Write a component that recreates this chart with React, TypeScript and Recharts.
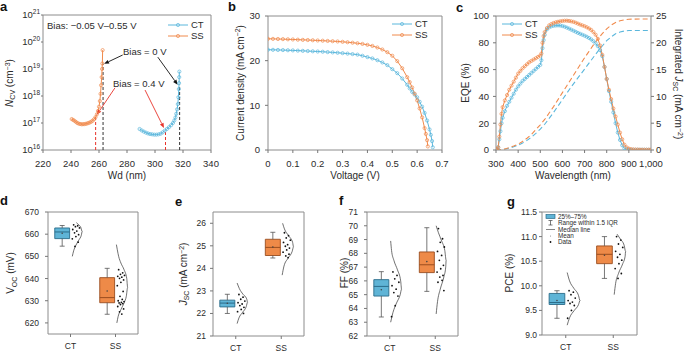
import React from 'react';
import { ComposedChart, Line, Scatter, XAxis, YAxis, ReferenceLine, ReferenceArea } from 'recharts';

type Pt = [number, number];
type Box = { min: number; q1: number; med: number; q3: number; max: number; mean: number };

const CT_C = '#5bb7dc';
const SS_C = '#f08a4c';
const FONT = '"Liberation Sans", Arial, Helvetica, sans-serif';
const FRAME = '#8c8c8c';
const TICK = '#777';
const TXT = '#2b2b2b';

const GROUPS = ['CT', 'SS'];

// a: C-V doping profiles [Wd (nm), N_CV (cm^-3)]
const ncvCT: Pt[] = [
  [289, 6e16], [290.5, 5.3e16], [292, 4.8e16], [293.5, 4.4e16], [295, 4.1e16], [296.5, 3.9e16],
  [298, 3.8e16], [299.5, 3.7e16], [301, 3.7e16], [302.5, 3.8e16], [304, 4.0e16], [305.5, 4.5e16],
  [307, 5.2e16], [308.5, 6.0e16], [310, 7e16], [311.5, 8.3e16], [312.8, 1e17], [313.8, 1.25e17],
  [314.6, 1.6e17], [315.2, 2.2e17], [315.8, 3.2e17], [316.3, 5e17], [316.7, 9e17], [317, 1.8e18],
  [317.2, 3e18], [317.3, 5e18], [317.4, 8e18],
];
const ncvSS: Pt[] = [
  [240.5, 1.4e17], [241.5, 1.3e17], [242.5, 1.2e17], [243.5, 1.1e17], [244.5, 1.0e17], [245.5, 9.5e16],
  [246.5, 9.2e16], [247.5, 9.0e16], [248.5, 9.0e16], [249.5, 9.1e16], [250.5, 9.3e16], [251.5, 9.6e16],
  [252.5, 1.0e17], [253.5, 1.05e17], [254.5, 1.12e17], [255.5, 1.22e17], [256.5, 1.38e17], [257.5, 1.65e17],
  [258.5, 2.1e17], [259.3, 2.8e17], [260, 4.0e17], [260.6, 6.5e17], [261.1, 1.2e18], [261.5, 2.5e18],
  [261.9, 5e18], [262.2, 1e19], [262.4, 1.6e19], [262.6, 5e19],
];
// dashed guides [Wd, N where the guide meets the curve]
const guides0V: Pt[] = [[262.9, 1.6e19], [317.6, 2.6e18]];
const guides04V: Pt[] = [[257.6, 1.7e17], [307.5, 5.4e16]];
// arrows [from, to]
const arrows0V: [Pt, Pt][] = [[[276.9, 3.3e19], [263.6, 1.55e19]], [[302, 2.75e19], [316.2, 2.6e18]]];
const arrows04V: [Pt, Pt][] = [[[271.4, 2e18], [258.4, 2e17]], [[292.9, 1.66e18], [306.4, 6.5e16]]];

// b: J-V curves [V, mA cm^-2]
const jvCT: Pt[] = [
  [0, 22.45], [0.02, 22.43], [0.04, 22.4], [0.06, 22.37], [0.08, 22.33], [0.1, 22.3], [0.12, 22.25],
  [0.14, 22.2], [0.16, 22.15], [0.18, 22.1], [0.2, 22.05], [0.22, 22.0], [0.24, 21.92], [0.26, 21.85],
  [0.28, 21.77], [0.3, 21.68], [0.32, 21.58], [0.34, 21.47], [0.36, 21.35], [0.38, 21.1], [0.4, 20.8],
  [0.42, 20.5], [0.44, 20.1], [0.46, 19.6], [0.48, 19.0], [0.5, 18.1], [0.52, 17.2], [0.54, 16.0],
  [0.56, 14.6], [0.57, 13.8], [0.58, 13.0], [0.59, 12.4], [0.6, 11.8], [0.61, 10.8], [0.62, 9.7],
  [0.63, 8.3], [0.64, 6.6], [0.65, 4.6], [0.655, 3.4], [0.66, 2.0], [0.663, 0.6],
];
const jvSS: Pt[] = [
  [0, 24.9], [0.02, 24.88], [0.04, 24.85], [0.06, 24.82], [0.08, 24.78], [0.1, 24.75], [0.12, 24.7],
  [0.14, 24.66], [0.16, 24.62], [0.18, 24.57], [0.2, 24.52], [0.22, 24.47], [0.24, 24.42], [0.26, 24.36],
  [0.28, 24.3], [0.3, 24.22], [0.32, 24.13], [0.34, 24.02], [0.36, 23.9], [0.38, 23.75], [0.4, 23.55],
  [0.42, 23.3], [0.44, 22.95], [0.46, 22.5], [0.48, 21.9], [0.5, 21.1], [0.52, 19.9], [0.54, 18.3],
  [0.56, 16.3], [0.57, 15.2], [0.58, 14.0], [0.59, 12.6], [0.6, 11.1], [0.61, 9.3], [0.62, 7.3],
  [0.63, 4.9], [0.635, 3.6], [0.64, 2.2], [0.643, 0.8],
];

// c: EQE [nm, %] and integrated Jsc [nm, mA cm^-2]
const eqeCT: Pt[] = [
  [300, 0.5], [305, 0.8], [310, 2], [315, 8], [320, 14], [325, 20], [330, 24], [340, 29], [350, 33],
  [360, 36], [370, 39], [380, 42], [390, 45], [400, 47.5], [410, 49.5], [420, 51.5], [430, 53], [440, 54.5],
  [450, 56], [460, 57.5], [470, 59], [480, 60.5], [490, 62], [500, 63.5], [505, 67], [510, 76], [515, 82],
  [520, 86], [530, 90], [540, 91.5], [550, 92.3], [560, 92.7], [570, 92.9], [580, 93], [590, 92.9],
  [600, 92.5], [610, 92], [620, 91.3], [630, 90.6], [640, 89.8], [650, 89], [660, 88.2], [670, 87.4],
  [680, 86.7], [690, 86], [700, 85.3], [710, 84.5], [720, 83.6], [730, 82.5], [740, 81.2], [750, 79.6],
  [760, 77.5], [770, 74.5], [780, 70], [790, 62], [800, 53], [810, 44], [820, 36], [830, 28], [840, 20],
  [850, 13], [860, 7.5], [870, 3.5], [880, 1.2], [890, 0.5], [900, 0.3], [910, 0.2], [920, 0.2],
  [930, 0.2], [940, 0.2], [950, 0.2], [960, 0.2], [970, 0.2], [980, 0.2], [990, 0.2], [1000, 0.2],
];
const eqeSS: Pt[] = [
  [300, 0.5], [305, 0.8], [310, 2], [315, 10], [320, 19], [325, 27], [330, 32], [340, 37], [350, 41],
  [360, 45], [370, 48], [380, 51], [390, 54], [400, 57], [410, 59], [420, 61], [430, 62.5], [440, 64],
  [450, 65.5], [460, 66.5], [470, 67.5], [480, 68.5], [490, 69.5], [500, 70.5], [505, 72], [510, 80],
  [515, 85], [520, 88], [530, 91], [540, 93], [550, 94], [560, 94.8], [570, 95.3], [580, 95.7], [590, 96],
  [600, 96.3], [610, 96.5], [620, 96.5], [630, 96.3], [640, 96], [650, 95.6], [660, 95], [670, 94.3],
  [680, 93.6], [690, 93], [700, 92.4], [710, 91.6], [720, 90.7], [730, 89.6], [740, 88], [750, 86],
  [760, 83], [770, 78], [780, 71], [790, 62], [800, 53], [810, 45], [820, 38], [830, 31], [840, 25],
  [850, 19], [860, 13], [870, 8], [880, 4], [890, 2], [900, 1], [910, 0.6], [920, 0.4], [930, 0.3],
  [940, 0.3], [950, 0.2], [960, 0.2], [970, 0.2], [980, 0.2], [990, 0.2], [1000, 0.2],
];
const jscIntCT: Pt[] = [
  [300, 0], [340, 0.15], [360, 0.35], [380, 0.6], [400, 0.9], [420, 1.3], [440, 1.8], [460, 2.4],
  [480, 3.1], [500, 3.9], [520, 4.8], [540, 5.9], [560, 7.0], [580, 8.2], [600, 9.4], [620, 10.6],
  [640, 11.8], [660, 12.9], [680, 14.0], [700, 15.1], [720, 16.2], [740, 17.3], [760, 18.4], [780, 19.4],
  [800, 20.4], [820, 21.1], [840, 21.7], [860, 22.0], [880, 22.2], [900, 22.3], [950, 22.3], [1000, 22.3],
];
const jscIntSS: Pt[] = [
  [300, 0], [320, 0.05], [340, 0.2], [360, 0.45], [380, 0.75], [400, 1.1], [420, 1.6], [440, 2.2],
  [460, 2.9], [480, 3.8], [500, 4.7], [520, 5.7], [540, 6.9], [560, 8.1], [580, 9.4], [600, 10.7],
  [620, 12.0], [640, 13.3], [660, 14.6], [680, 15.9], [700, 17.2], [720, 18.4], [740, 19.6], [760, 20.7],
  [780, 21.7], [800, 22.6], [820, 23.3], [840, 23.8], [860, 24.1], [880, 24.3], [900, 24.4], [950, 24.45],
  [1000, 24.45],
];

// d-g: device statistics (CT, SS)
const vocCT = [664.2, 663.8, 663.4, 662.8, 662.1, 661.4, 660.6, 659.8, 658.9, 657.9, 656.4, 654.5];
const vocSS = [644.0, 642.6, 641.9, 641.4, 641.0, 640.6, 640.1, 639.4, 638.3, 636.8, 634.2, 632.0, 630.6,
  630.0, 629.6, 629.3, 629.0, 628.7, 628.3, 627.4, 626.3, 625.0, 624.0];
const vocBoxCT: Box = { min: 654.6, q1: 658.0, med: 661.0, q3: 662.8, max: 663.9, mean: 660.4 };
const vocBoxSS: Box = { min: 623.9, q1: 629.1, med: 631.4, q3: 640.4, max: 644.6, mean: 634.4 };
const vocViolinCT: Pt[] = [[650, 0.04], [652.5, 0.07], [655, 0.12], [657.5, 0.19], [659.5, 0.24], [661.2, 0.26],
  [663, 0.23], [664.3, 0.18], [665.2, 0.13]];
const vocViolinSS: Pt[] = [[620, 0.03], [623, 0.06], [626, 0.12], [629, 0.19], [632, 0.24], [636, 0.27],
  [640, 0.25], [644, 0.19], [647, 0.12], [650, 0.07], [653, 0.04], [655.3, 0.02]];

const jscCT = [22.84, 22.72, 22.63, 22.55, 22.48, 22.42, 22.35, 22.27, 22.18, 22.08, 22.0];
const jscSS = [25.58, 25.45, 25.35, 25.25, 25.15, 25.05, 24.98, 24.9, 24.82, 24.72, 24.63, 24.55, 24.48];
const jscBoxCT: Box = { min: 22.0, q1: 22.29, med: 22.46, q3: 22.59, max: 22.85, mean: 22.45 };
const jscBoxSS: Box = { min: 24.46, q1: 24.57, med: 24.93, q3: 25.29, max: 25.6, mean: 24.95 };
const jscViolinCT: Pt[] = [[21.55, 0.03], [21.8, 0.07], [22.05, 0.15], [22.3, 0.23], [22.5, 0.26], [22.65, 0.24],
  [22.85, 0.16], [23.1, 0.08], [23.35, 0.03]];
const jscViolinSS: Pt[] = [[23.7, 0.02], [24.1, 0.06], [24.45, 0.15], [24.75, 0.24], [24.95, 0.27], [25.15, 0.25],
  [25.45, 0.16], [25.75, 0.07], [26.0, 0.03]];

const ffCT = [66.65, 66.4, 66.15, 65.9, 65.65, 65.4, 65.15, 64.9, 64.2, 63.4];
const ffSS = [69.8, 69.06, 68.8, 68.46, 68.14, 67.85, 67.49, 67.13, 66.88, 66.64, 66.4, 66.28, 66.04, 65.9, 65.3];
const ffBoxCT: Box = { min: 63.38, q1: 64.9, med: 65.6, q3: 66.09, max: 66.67, mean: 65.36 };
const ffBoxSS: Box = { min: 65.24, q1: 66.6, med: 67.17, q3: 68.1, max: 69.86, mean: 67.4 };
const ffViolinCT: Pt[] = [[63.0, 0.02], [63.7, 0.07], [64.4, 0.15], [65.0, 0.23], [65.4, 0.26], [66.0, 0.24],
  [66.8, 0.17], [67.5, 0.09], [68.2, 0.04], [68.9, 0.02]];
const ffViolinSS: Pt[] = [[63.6, 0.02], [64.5, 0.05], [65.4, 0.11], [66.3, 0.19], [67.0, 0.23], [67.5, 0.24],
  [68.2, 0.21], [68.9, 0.14], [69.5, 0.07], [70.0, 0.02]];

const pceCT = [9.9, 9.87, 9.82, 9.75, 9.7, 9.67, 9.64, 9.6, 9.5, 9.34];
const pceSS = [11.0, 10.93, 10.85, 10.78, 10.7, 10.64, 10.58, 10.52, 10.45, 10.35, 10.25, 10.15];
const pceBoxCT: Box = { min: 9.34, q1: 9.62, med: 9.66, q3: 9.845, max: 9.9, mean: 9.7 };
const pceBoxSS: Box = { min: 10.15, q1: 10.45, med: 10.64, q3: 10.81, max: 11.0, mean: 10.62 };
const pceViolinCT: Pt[] = [[9.2, 0.03], [9.35, 0.08], [9.5, 0.18], [9.62, 0.27], [9.7, 0.3], [9.8, 0.27],
  [9.95, 0.17], [10.1, 0.08], [10.27, 0.03]];
const pceViolinSS: Pt[] = [[9.82, 0.02], [10.05, 0.05], [10.25, 0.11], [10.45, 0.2], [10.6, 0.25], [10.7, 0.26],
  [10.82, 0.23], [10.95, 0.15], [11.05, 0.08]];

// horizontal jitter for the raw data dots (style only)
const JIT = [0.07, 0.16, 0.11, 0.2, 0.05, 0.14, 0.09, 0.18, 0.12, 0.04, 0.17, 0.1, 0.15, 0.06, 0.19, 0.13,
  0.08, 0.16, 0.11, 0.05, 0.18, 0.09, 0.14];
const BOX_L = -0.35;
const BOX_R = -0.02;
const BOX_C = -0.185;
const CAP = 0.055;

const xy = (pts: Pt[]) => pts.map(([x, y]) => ({ x, y }));
const tickTop = { fontSize: 9.5, fill: TXT, fontFamily: FONT };
const tickBot = { fontSize: 8.5, fill: TXT, fontFamily: FONT };
const mark = (c: string) => ({ r: 1.6, fill: 'none', stroke: c, strokeWidth: 0.7 });

function LogTick(props: any) {
  const { x, y, payload } = props;
  const e = Math.round(Math.log10(payload.value));
  return (
    <text x={x} y={y} textAnchor="end" fontSize={9.5} fill={TXT} dy="0.35em" fontFamily={FONT}>
      10<tspan fontSize={6.5} dy={-4}>{e}</tspan>
    </text>
  );
}

const arrowShape = (color: string) => (p: any) => {
  const { x1, y1, x2, y2 } = p;
  const a = Math.atan2(y2 - y1, x2 - x1);
  const L = 5;
  const W = 2;
  const bx = x2 - L * Math.cos(a);
  const by = y2 - L * Math.sin(a);
  const nx = -Math.sin(a) * W;
  const ny = Math.cos(a) * W;
  return (
    <g>
      <line x1={x1} y1={y1} x2={bx} y2={by} stroke={color} strokeWidth={0.9} />
      <polygon points={`${x2},${y2} ${bx + nx},${by + ny} ${bx - nx},${by - ny}`} fill={color} />
    </g>
  );
};

function Title({ x, y, rot = 0, size = 10, children }: any) {
  return (
    <div style={{
      position: 'absolute', left: x, top: y, transform: `translate(-50%,-50%) rotate(${rot}deg)`,
      whiteSpace: 'nowrap', fontSize: size, lineHeight: 1, color: TXT,
    }}>{children}</div>
  );
}

const Sub = ({ children }: any) => <sub style={{ fontSize: '0.7em', verticalAlign: '-0.3em' }}>{children}</sub>;
const Sup = ({ children }: any) => <sup style={{ fontSize: '0.7em', verticalAlign: '0.45em' }}>{children}</sup>;

function Letter({ x, top, children }: any) {
  return (
    <div style={{ position: 'absolute', left: x, top, fontSize: 13, fontWeight: 700, lineHeight: 1, color: '#111' }}>
      {children}
    </div>
  );
}

function SeriesLegend({ left, top }: { left: number; top: number }) {
  const items: [string, string][] = [['CT', CT_C], ['SS', SS_C]];
  return (
    <svg style={{ position: 'absolute', left, top }} width={44} height={26}>
      {items.map(([name, c], i) => {
        const y = 5 + i * 11;
        return (
          <g key={name}>
            <line x1={0} x2={20} y1={y} y2={y} stroke={c} strokeWidth={1} />
            <circle cx={10} cy={y} r={1.6} fill="none" stroke={c} strokeWidth={0.7} />
            <text x={23} y={y} dy="0.35em" fontSize={9.5} fill={TXT} fontFamily={FONT}>{name}</text>
          </g>
        );
      })}
    </svg>
  );
}

function PanelA() {
  return (
    <div style={{ position: 'absolute', left: 0, top: 0 }}>
      <ComposedChart width={220} height={180} margin={{ top: 15, right: 9, bottom: 0, left: 0 }}>
        <XAxis type="number" dataKey="x" domain={[220, 340]} ticks={[220, 240, 260, 280, 300, 320, 340]} interval={0}
          height={30} axisLine={false} tickSize={3} tickMargin={7} tick={tickTop} tickLine={{ stroke: TICK }} allowDataOverflow />
        <YAxis type="number" dataKey="y" scale="log" domain={[1e16, 1e21]} ticks={[1e16, 1e17, 1e18, 1e19, 1e20, 1e21]} interval={0}
          width={43} axisLine={false} tickSize={2} tickMargin={1} tick={<LogTick />} tickLine={{ stroke: TICK }} allowDataOverflow />
        <ReferenceArea x1={220} x2={340} y1={1e16} y2={1e21} fill="none" fillOpacity={0} stroke={FRAME} />
        {guides04V.map(([x, y], i) => (
          <ReferenceLine key={'r' + i} segment={[{ x, y: 1e16 }, { x, y }]} stroke="#e8332a" strokeDasharray="3 2" strokeWidth={1} />
        ))}
        {guides0V.map(([x, y], i) => (
          <ReferenceLine key={'k' + i} segment={[{ x, y: 1e16 }, { x, y }]} stroke="#333" strokeDasharray="3 2" strokeWidth={1} />
        ))}
        <Line data={xy(ncvSS)} dataKey="y" stroke={SS_C} strokeWidth={1} dot={mark(SS_C)} isAnimationActive={false} />
        <Line data={xy(ncvCT)} dataKey="y" stroke={CT_C} strokeWidth={1} dot={mark(CT_C)} isAnimationActive={false} />
        {arrows0V.map(([a, b], i) => (
          <ReferenceLine key={'ak' + i} segment={[{ x: a[0], y: a[1] }, { x: b[0], y: b[1] }]} shape={arrowShape('#111')} />
        ))}
        {arrows04V.map(([a, b], i) => (
          <ReferenceLine key={'ar' + i} segment={[{ x: a[0], y: a[1] }, { x: b[0], y: b[1] }]} shape={arrowShape('#e8332a')} />
        ))}
      </ComposedChart>
      <div style={{ position: 'absolute', left: 47, top: 20, fontSize: 9.5, color: TXT, whiteSpace: 'nowrap' }}>Bias: −0.05 V–0.55 V</div>
      <div style={{ position: 'absolute', left: 123, top: 46, fontSize: 9.5, color: TXT, whiteSpace: 'nowrap' }}>Bias = 0 V</div>
      <div style={{ position: 'absolute', left: 113, top: 78, fontSize: 9.5, color: TXT, whiteSpace: 'nowrap' }}>Bias = 0.4 V</div>
      <SeriesLegend left={168} top={20} />
    </div>
  );
}

function PanelB() {
  return (
    <div style={{ position: 'absolute', left: 225, top: 0 }}>
      <ComposedChart width={225} height={180} margin={{ top: 16, right: 8, bottom: 0, left: 0 }}>
        <XAxis type="number" dataKey="x" domain={[0, 0.7]} ticks={[0, 0.1, 0.2, 0.3, 0.4, 0.5, 0.6, 0.7]} interval={0}
          tickFormatter={(v: number) => (v === 0 ? '0' : v.toFixed(1))}
          height={30} axisLine={false} tickSize={3} tickMargin={7} tick={tickTop} tickLine={{ stroke: TICK }} allowDataOverflow />
        <YAxis type="number" dataKey="y" domain={[0, 30]} ticks={[0, 10, 20, 30]} interval={0}
          width={43} axisLine={false} tickSize={3} tickMargin={5} tick={tickTop} tickLine={{ stroke: TICK }} allowDataOverflow />
        <ReferenceArea x1={0} x2={0.7} y1={0} y2={30} fill="none" fillOpacity={0} stroke={FRAME} />
        <Line data={xy(jvCT)} dataKey="y" stroke={CT_C} strokeWidth={1} dot={mark(CT_C)} isAnimationActive={false} />
        <Line data={xy(jvSS)} dataKey="y" stroke={SS_C} strokeWidth={1} dot={mark(SS_C)} isAnimationActive={false} />
      </ComposedChart>
      <SeriesLegend left={167} top={19} />
    </div>
  );
}

function PanelC() {
  return (
    <div style={{ position: 'absolute', left: 450, top: 0 }}>
      <ComposedChart width={235} height={180} margin={{ top: 16, right: 0, bottom: 0, left: 0 }}>
        <XAxis type="number" dataKey="x" domain={[300, 1000]} ticks={[300, 400, 500, 600, 700, 800, 900, 1000]} interval={0}
          tickFormatter={(v: number) => (v === 1000 ? '1,000' : String(v))}
          height={30} axisLine={false} tickSize={3} tickMargin={7} tick={tickTop} tickLine={{ stroke: TICK }} allowDataOverflow />
        <YAxis yAxisId="l" type="number" dataKey="y" domain={[0, 100]} ticks={[0, 20, 40, 60, 80, 100]} interval={0}
          width={46} axisLine={false} tickSize={3} tickMargin={4} tick={tickTop} tickLine={{ stroke: TICK }} allowDataOverflow />
        <YAxis yAxisId="r" orientation="right" type="number" dataKey="y" domain={[0, 25]} ticks={[0, 5, 10, 15, 20, 25]} interval={0}
          width={34} axisLine={false} tickSize={3} tickMargin={2} tick={tickTop} tickLine={{ stroke: TICK }} allowDataOverflow />
        <ReferenceArea yAxisId="l" x1={300} x2={1000} y1={0} y2={100} fill="none" fillOpacity={0} stroke={FRAME} />
        <Line yAxisId="r" data={xy(jscIntCT)} dataKey="y" stroke={CT_C} strokeWidth={1.1} strokeDasharray="5 3" dot={false} isAnimationActive={false} />
        <Line yAxisId="r" data={xy(jscIntSS)} dataKey="y" stroke={SS_C} strokeWidth={1.1} strokeDasharray="5 3" dot={false} isAnimationActive={false} />
        <Line yAxisId="l" data={xy(eqeCT)} dataKey="y" stroke={CT_C} strokeWidth={1} dot={mark(CT_C)} isAnimationActive={false} />
        <Line yAxisId="l" data={xy(eqeSS)} dataKey="y" stroke={SS_C} strokeWidth={1} dot={mark(SS_C)} isAnimationActive={false} />
      </ComposedChart>
      <SeriesLegend left={52} top={19} />
    </div>
  );
}

type Group = { dots: number[]; box: Box; violin: Pt[]; fill: string; edge: string };

function BoxPanel({ left, width, yw, rm, xh, domain, ticks, fmt, gap, groups }: {
  left: number; width: number; yw: number; rm: number; xh: number; domain: [number, number];
  ticks: number[]; fmt?: (v: number) => string; gap: number; groups: Group[];
}) {
  const [lo, hi] = domain;
  return (
    <div style={{ position: 'absolute', left, top: 180 }}>
      <ComposedChart width={width} height={172} margin={{ top: 32, right: rm, bottom: 0, left: 0 }}>
        <XAxis type="number" dataKey="x" domain={[0.5, 2.5]} ticks={[1, 2]} interval={0} tickFormatter={(v: number) => GROUPS[v - 1]}
          height={xh} axisLine={false} tickSize={3} tickMargin={6} tick={tickBot} tickLine={{ stroke: TICK }} allowDataOverflow />
        <YAxis type="number" dataKey="y" domain={domain} ticks={ticks} interval={0} tickFormatter={fmt}
          width={yw} axisLine={false} tickSize={3} tickMargin={gap} tick={tickBot} tickLine={{ stroke: TICK }} allowDataOverflow />
        <ReferenceArea x1={0.5} x2={2.5} y1={lo} y2={hi} fill="none" fillOpacity={0} stroke={FRAME} />
        {groups.map((g, i) => {
          const pos = i + 1;
          const bc = pos + BOX_C;
          const b = g.box;
          return (
            <React.Fragment key={i}>
              <ReferenceLine segment={[{ x: bc, y: b.min }, { x: bc, y: b.q1 }]} stroke="#555" strokeWidth={0.8} />
              <ReferenceLine segment={[{ x: bc, y: b.q3 }, { x: bc, y: b.max }]} stroke="#555" strokeWidth={0.8} />
              <ReferenceLine segment={[{ x: bc - CAP, y: b.min }, { x: bc + CAP, y: b.min }]} stroke="#555" strokeWidth={0.8} />
              <ReferenceLine segment={[{ x: bc - CAP, y: b.max }, { x: bc + CAP, y: b.max }]} stroke="#555" strokeWidth={0.8} />
              <ReferenceArea x1={pos + BOX_L} x2={pos + BOX_R} y1={b.q1} y2={b.q3} fill={g.fill} fillOpacity={1} stroke={g.edge} strokeWidth={0.9} />
              <ReferenceLine segment={[{ x: pos + BOX_L, y: b.med }, { x: pos + BOX_R, y: b.med }]} stroke={g.edge} strokeWidth={1} />
              <Scatter data={[{ x: bc, y: b.mean }]} isAnimationActive={false}
                shape={(p: any) => <circle cx={p.cx} cy={p.cy} r={0.8} fill="#444" />} />
              <Line data={g.violin.map(([v, w]) => ({ x: pos + w, y: v }))} dataKey="y" type="monotone"
                stroke="#333" strokeWidth={0.7} dot={false} isAnimationActive={false} />
              <Scatter data={g.dots.map((v, j) => ({ x: pos + JIT[j % JIT.length], y: v }))} isAnimationActive={false}
                shape={(p: any) => <circle cx={p.cx} cy={p.cy} r={0.9} fill="#111" />} />
            </React.Fragment>
          );
        })}
      </ComposedChart>
    </div>
  );
}

const CT_BOX = { fill: '#5fb4d6', edge: '#2a6c8a' };
const SS_BOX = { fill: '#ee8a48', edge: '#9a4d1f' };

function BoxLegend() {
  return (
    <svg style={{ position: 'absolute', left: 540, top: 208 }} width={100} height={40} fontFamily={FONT}>
      <rect x={6} y={6.5} width={9} height={4} fill={CT_BOX.fill} stroke={CT_BOX.edge} strokeWidth={0.7} />
      <text x={18} y={8.5} dy="0.35em" fontSize={6.3} fill={TXT}>25%–75%</text>
      <line x1={10.5} x2={10.5} y1={12.5} y2={17} stroke="#444" strokeWidth={0.7} />
      <line x1={8.5} x2={12.5} y1={12.5} y2={12.5} stroke="#444" strokeWidth={0.7} />
      <line x1={8.5} x2={12.5} y1={17} y2={17} stroke="#444" strokeWidth={0.7} />
      <text x={18} y={15} dy="0.35em" fontSize={6.3} fill={TXT}>Range within 1.5 IQR</text>
      <line x1={6} x2={15} y1={21.5} y2={21.5} stroke="#666" strokeWidth={0.8} />
      <text x={18} y={21.5} dy="0.35em" fontSize={6.3} fill={TXT}>Median line</text>
      <circle cx={10.5} cy={28} r={0.5} fill="#777" />
      <text x={18} y={28} dy="0.35em" fontSize={6.3} fill={TXT}>Mean</text>
      <circle cx={10.5} cy={34} r={0.9} fill="#111" />
      <text x={18} y={34} dy="0.35em" fontSize={6.3} fill={TXT}>Data</text>
    </svg>
  );
}

export default function App() {
  return (
    <div style={{ position: 'absolute', left: 0, top: 0, width: 685, height: 352, background: '#fff', fontFamily: FONT, overflow: 'hidden' }}>
      <PanelA />
      <PanelB />
      <PanelC />
      <BoxPanel left={0} width={145} yw={48} rm={7} xh={18} domain={[615, 670]} ticks={[620, 630, 640, 650, 660, 670]} gap={6}
        groups={[{ dots: vocCT, box: vocBoxCT, violin: vocViolinCT, ...CT_BOX }, { dots: vocSS, box: vocBoxSS, violin: vocViolinSS, ...SS_BOX }]} />
      <BoxPanel left={170} width={140} yw={43} rm={6} xh={16} domain={[21, 26.5]} ticks={[21, 22, 23, 24, 25, 26]} gap={4}
        groups={[{ dots: jscCT, box: jscBoxCT, violin: jscViolinCT, ...CT_BOX }, { dots: jscSS, box: jscBoxSS, violin: jscViolinSS, ...SS_BOX }]} />
      <BoxPanel left={330} width={135} yw={37} rm={7} xh={16} domain={[62, 71]} ticks={[62, 63, 64, 65, 66, 67, 68, 69, 70, 71]} gap={6}
        groups={[{ dots: ffCT, box: ffBoxCT, violin: ffViolinCT, ...CT_BOX }, { dots: ffSS, box: ffBoxSS, violin: ffViolinSS, ...SS_BOX }]} />
      <BoxPanel left={500} width={145} yw={42} rm={8} xh={17} domain={[9, 11.5]} ticks={[9, 9.5, 10, 10.5, 11, 11.5]} gap={2}
        fmt={(v: number) => v.toFixed(1)}
        groups={[{ dots: pceCT, box: pceBoxCT, violin: pceViolinCT, ...CT_BOX }, { dots: pceSS, box: pceBoxSS, violin: pceViolinSS, ...SS_BOX }]} />
      <BoxLegend />

      <Title x={10} y={83} rot={-90}><i>N</i><Sub>CV</Sub> (cm<Sup>−3</Sup>)</Title>
      <Title x={127} y={176}>Wd (nm)</Title>
      <Title x={240} y={83} rot={-90}>Current density (mA cm<Sup>−2</Sup>)</Title>
      <Title x={355} y={176}>Voltage (V)</Title>
      <Title x={466} y={83} rot={-90}>EQE (%)</Title>
      <Title x={678} y={84} rot={90}>Integrated <i>J</i><Sub>SC</Sub> (mA cm<Sup>−2</Sup>)</Title>
      <Title x={573} y={176}>Wavelength (nm)</Title>
      <Title x={12} y={273} rot={-90}>V<Sub>OC</Sub> (mV)</Title>
      <Title x={184} y={274} rot={-90}><i>J</i><Sub>SC</Sub> (mA cm<Sup>−2</Sup>)</Title>
      <Title x={345} y={273} rot={-90}>FF (%)</Title>
      <Title x={510} y={273} rot={-90}>PCE (%)</Title>

      <Letter x={0} top={0}>a</Letter>
      <Letter x={228} top={0}>b</Letter>
      <Letter x={456} top={1}>c</Letter>
      <Letter x={0} top={194}>d</Letter>
      <Letter x={175} top={195}>e</Letter>
      <Letter x={339} top={194}>f</Letter>
      <Letter x={507} top={195}>g</Letter>
    </div>
  );
}
